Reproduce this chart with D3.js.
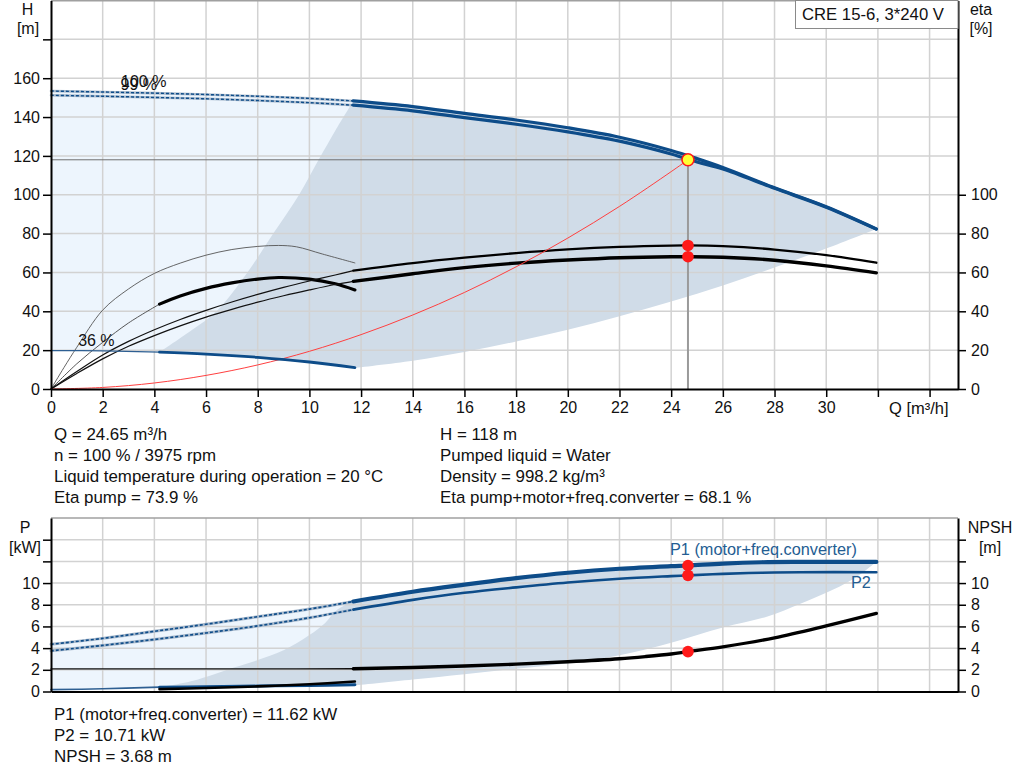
<!DOCTYPE html>
<html><head><meta charset="utf-8">
<script src="https://cdn.jsdelivr.net/npm/d3@7/dist/d3.min.js"></script>
<style>
body{margin:0;background:#fff;}
svg text{font-family:"Liberation Sans",Arial,sans-serif;fill:#111;}
</style></head>
<body><svg id="c" width="1024" height="781"></svg>
<script>
// ---------- DATA ----------
const xTicks = [0,2,4,6,8,10,12,14,16,18,20,22,24,26,28,30,32,34];
const hTicks = [0,20,40,60,80,100,120,140,160,180];
const etaTicks = [0,20,40,60,80,100];
const pTicks = [0,2,4,6,8,10,12,14];

// head curves (Q m3/h, H m)
const qHead = [0,2,4,6,8,10,11.7,14,16,18,20,22,24,25,26,28,30,31.94];
const h100  = [153.4,152.9,152.3,151.6,150.7,149.6,148.3,145.4,141.9,138.5,134.5,129.6,122.8,118.6,114.0,103.6,93.8,82.4];
const h99   = [151.2,150.7,150.1,149.4,148.5,147.4,146.1,143.2,139.7,136.3,132.4,127.6,121.0,116.9,113.3,103.3,93.6,82.3];
// min speed head curve (36 %)
const qMin = [0,2,4.2,6,8,10,11.76];
const hMin = [19.8,19.6,19.0,18.0,16.3,13.9,11.0];
// gray area edges
const qLeftEdge = [4.2,5.2,6.4,7.6,8.6,9.6,10.4,11.0,11.7];
const hLeftEdge = [19.0,28,40,60,80,100,119,133,148.3];
const qLowEdge = [11.76,14,16,18,20,22,24,26,28,30,31.94];
const hLowEdge = [10.8,14.5,19,24.5,30.5,37.5,45,53.3,62.5,72.3,82.4];
// efficiency at 100 %
const qEta = [0,1,2,3,4,5,6,7,8,9,10,11,11.7,14,16,18,20,22,24,24.65,26,28,30,31.94];
const etaPump = [0,9,17.5,24.5,30.5,35.8,40.5,44.8,48.7,52.3,55.6,58.7,60.9,64.8,67.6,70.0,71.9,73.2,73.85,73.9,73.5,71.8,68.9,65.0];
const etaTot  = [0,8,15.5,22,27.5,32.5,37,41,44.7,48,51,53.8,55.4,59.3,62.5,64.8,66.4,67.6,68.1,68.1,67.8,66.3,63.4,59.8];
// efficiency at 36 %
const qEta36P = [0,0.5,1,2,3,4,5,6,7,8,8.8,9.5,10.5,11.76];
const eta36P  = [0,11,21.5,40.6,51.5,59.5,64.8,68.9,71.8,73.4,73.9,73.2,69.5,64.9];
const qEta36T = [0,1,2,3,4.2,5,6,7,8,8.8,10,11,11.76];
const eta36T  = [0,13,24,34,43.7,47.9,51.8,54.6,56.6,57.4,56.6,54.2,51.0];
// system curve
const qSys = [0,2,4,6,8,10,12,14,16,18,20,22,24,24.65];
const hSys = [0,0.8,3.1,7.0,12.4,19.4,28.0,38.1,49.7,62.9,77.7,94.0,111.9,118];
// duty point
const dutyQ = 24.65, dutyH = 118, dutyEtaP = 73.9, dutyEtaT = 68.1;
const dutyP1 = 11.62, dutyP2 = 10.71, dutyNPSH = 3.68;

// power curves
const qP = [0,2,4,6,8,10,11.7,14,16,18,20,22,24,24.65,26,27.5,29,31.94];
const p1 = [4.35,4.9,5.55,6.2,6.9,7.6,8.3,9.2,9.85,10.45,10.95,11.32,11.56,11.62,11.8,11.92,11.95,11.95];
const p2 = [3.75,4.25,4.8,5.4,6.05,6.8,7.55,8.45,9.1,9.6,10.05,10.4,10.64,10.71,10.85,10.95,11.0,11.0];
const qNpsh = [0,4,8,11.7,14,16,18,20,22,23,24,24.65,26,28,30,31.94];
const npsh = [2.08,2.08,2.08,2.1,2.22,2.35,2.52,2.74,3.02,3.22,3.46,3.68,4.12,4.95,6.05,7.2];
const qPmin = [0,2,4.2,6,8,10,11.76];
const pMinBlue = [0.17,0.25,0.4,0.44,0.5,0.56,0.62];
const qPminK = [4.2,6,8,10,11.76];
const pMinBlack = [0.22,0.32,0.47,0.67,0.92];
const qPLeft = [4.2,5.5,7.05,8,9,10,10.6,11.05,11.7];
const pLeft = [0.4,1.0,2.2,2.9,3.8,5.2,6.3,7.5,8.3];
const qPLow = [11.76,14,16,18,20,22,24,26,27.7,29,30,31,31.94];
const pLow = [0.55,1.1,1.6,2.1,2.6,3.35,4.5,5.9,6.9,8.1,9.1,10.3,11.95];

const infoLeft = ["Q = 24.65 m³/h","n = 100 % / 3975 rpm","Liquid temperature during operation = 20 °C","Eta pump = 73.9 %"];
const infoRight = ["H = 118 m","Pumped liquid = Water","Density = 998.2 kg/m³","Eta pump+motor+freq.converter = 68.1 %"];
const infoBottom = ["P1 (motor+freq.converter) = 11.62 kW","P2 = 10.71 kW","NPSH = 3.68 m"];

// ---------- SETUP ----------
const svg = d3.select("#c");
const BLUE = "#0d4c89", LIGHT = "#edf5fd", GRAYF = "#d0dce8", GRID = "#d2d2d2";
const x = d3.scaleLinear().domain([0,35.1]).range([51,958]);
const yT = d3.scaleLinear().domain([0,200]).range([389,0.5]);
const yB = d3.scaleLinear().domain([0,16]).range([691.5,518]);

const zip = (qs, vs) => qs.map((q,i)=>[q,vs[i]]);
const sub = (pts, a, b) => pts.filter(p=>p[0]>=a-1e-9 && p[0]<=b+1e-9);
function lineGen(y){ return d3.line().x(d=>x(d[0])).y(d=>y(d[1])).curve(d3.curveCatmullRom.alpha(0.5)); }
function polyPath(y, segs){
  const lg = lineGen(y);
  return segs.map((s,i)=>{ const p = lg(s); return i===0? p : p.replace(/^M/,"L"); }).join("") + "Z";
}
function drawLine(g, y, pts, stroke, w, extra){
  const p = g.append("path").attr("d", lineGen(y)(pts)).attr("fill","none")
    .attr("stroke",stroke).attr("stroke-width",w).attr("stroke-linejoin","round").attr("stroke-linecap","round");
  if(extra) extra(p);
  return p;
}
function hatched(g, y, pts, w){
  drawLine(g, y, pts, "#a9bacd", w);
  drawLine(g, y, pts, BLUE, w*0.55, p=>p.attr("stroke-dasharray","3,2").attr("stroke-linecap","butt"));
}

// ---------- TOP CHART ----------
const gTop = svg.append("g");
const H100 = zip(qHead,h100), H99 = zip(qHead,h99), HMIN = zip(qMin,hMin);
gTop.append("path").attr("fill",LIGHT)
  .attr("d", polyPath(yT,[sub(H100,0,11.7), sub(HMIN,0,11.76).slice().reverse()]));
gTop.append("path").attr("fill",GRAYF)
  .attr("d", polyPath(yT,[zip(qLeftEdge,hLeftEdge), sub(H100,11.7,40), zip(qLowEdge,hLowEdge).reverse(), sub(HMIN,4.2,11.76).reverse()]));
const gridT = gTop.append("g").attr("stroke",GRID).attr("stroke-width",1.5);
xTicks.filter(d=>d>0).forEach(d=>gridT.append("line").attr("x1",x(d)).attr("x2",x(d)).attr("y1",yT(200)).attr("y2",yT(0)));
hTicks.filter(d=>d>0).forEach(d=>gridT.append("line").attr("x1",x(0)).attr("x2",x(35.1)).attr("y1",yT(d)).attr("y2",yT(d)));
gTop.append("line").attr("x1",x(0)).attr("x2",x(35.1)).attr("y1",0.75).attr("y2",0.75).attr("stroke","#a0a0a0").attr("stroke-width",1.5);

gTop.append("line").attr("x1",x(0)).attr("x2",x(dutyQ)).attr("y1",yT(dutyH)).attr("y2",yT(dutyH)).attr("stroke","#707070").attr("stroke-width",1);
gTop.append("line").attr("x1",x(dutyQ)).attr("x2",x(dutyQ)).attr("y1",yT(dutyH)).attr("y2",yT(0)).attr("stroke","#9a9a9a").attr("stroke-width",2);

const EP = zip(qEta,etaPump), ET = zip(qEta,etaTot);
drawLine(gTop,yT,zip(qEta36P,eta36P),"#555",0.9);
drawLine(gTop,yT,sub(zip(qEta36T,eta36T),0,4.2),"#444",0.9);
drawLine(gTop,yT,sub(zip(qEta36T,eta36T),4.2,12),"#000",3.2);
drawLine(gTop,yT,sub(EP,0,11.7),"#111",1.2);
drawLine(gTop,yT,sub(ET,0,11.7),"#111",1.2);
drawLine(gTop,yT,sub(EP,11.7,40),"#000",2.3);
drawLine(gTop,yT,sub(ET,11.7,40),"#000",3.4);

drawLine(gTop,yT,zip(qSys,hSys),"#ff4040",1);

hatched(gTop,yT,sub(H100,0,11.7),2.6);
hatched(gTop,yT,sub(H99,0,11.7),2.6);
drawLine(gTop,yT,sub(H100,11.7,40),BLUE,3.2);
drawLine(gTop,yT,sub(H99,11.7,40),BLUE,3.2);
drawLine(gTop,yT,sub(HMIN,0,4.2),"#2e5f92",1.3);
drawLine(gTop,yT,sub(HMIN,4.2,12),BLUE,2.8);

gTop.append("text").attr("x",x(2.71)).attr("y",yT(155.5)).attr("font-size",16).text("100 %");
gTop.append("text").attr("x",x(2.69)).attr("y",yT(153.7)).attr("font-size",16).text("99 %");
gTop.append("text").attr("x",x(1.05)).attr("y",yT(22)).attr("font-size",16).text("36 %");

gTop.append("circle").attr("cx",x(dutyQ)).attr("cy",yT(dutyEtaP)).attr("r",5.8).attr("fill","#ff1a1a");
gTop.append("circle").attr("cx",x(dutyQ)).attr("cy",yT(dutyEtaT)).attr("r",5.8).attr("fill","#ff1a1a");
gTop.append("circle").attr("cx",x(dutyQ)).attr("cy",yT(dutyH)).attr("r",6).attr("fill","#ffff33").attr("stroke","#ff1a1a").attr("stroke-width",1.6);

function styleAxis(g, w){
  g.selectAll(".domain").attr("stroke","#000").attr("stroke-width",w);
  g.selectAll(".tick line").attr("stroke","#000").attr("stroke-width",1.5);
  g.selectAll("text").attr("font-size",16).attr("fill","#111").style("font-family",'"Liberation Sans",Arial,sans-serif');
}
const axL = gTop.append("g").attr("transform",`translate(${x(0)},0)`)
  .call(d3.axisLeft(yT).tickValues(hTicks).tickFormat(d=>d<=160?d:"").tickSize(8).tickPadding(3).tickSizeOuter(0));
styleAxis(axL,2);
const axR = gTop.append("g").attr("transform",`translate(${x(35.1)},0)`)
  .call(d3.axisRight(yT).tickValues(etaTicks).tickSize(8).tickPadding(5).tickSizeOuter(0));
styleAxis(axR,2);
const axB = gTop.append("g").attr("transform",`translate(0,${yT(0)})`)
  .call(d3.axisBottom(x).tickValues(xTicks).tickFormat(d=>d<=30?d:"").tickSize(8).tickPadding(5).tickSizeOuter(0));
styleAxis(axB,2);

gTop.append("text").attr("x",27.5).attr("y",15).attr("text-anchor","middle").attr("font-size",16).text("H");
gTop.append("text").attr("x",28).attr("y",34).attr("text-anchor","middle").attr("font-size",16).text("[m]");
gTop.append("text").attr("x",981).attr("y",15).attr("text-anchor","middle").attr("font-size",16).text("eta");
gTop.append("text").attr("x",981).attr("y",34).attr("text-anchor","middle").attr("font-size",16).text("[%]");
gTop.append("text").attr("x",889).attr("y",414).attr("font-size",16.5).text("Q [m³/h]");

gTop.append("rect").attr("x",795.5).attr("y",0.5).attr("width",162.5).attr("height",28).attr("fill","#fff").attr("stroke","#8a8a8a").attr("stroke-width",1);
gTop.append("text").attr("x",802).attr("y",19.5).attr("font-size",16.7).text("CRE 15-6, 3*240 V");

infoLeft.forEach((t,i)=>svg.append("text").attr("x",54).attr("y",440+i*21).attr("font-size",16.9).text(t));
infoRight.forEach((t,i)=>svg.append("text").attr("x",440).attr("y",440+i*21).attr("font-size",16.9).text(t));
infoBottom.forEach((t,i)=>svg.append("text").attr("x",54).attr("y",720+i*21).attr("font-size",16.9).text(t));

// ---------- BOTTOM CHART ----------
const gBot = svg.append("g");
const P1 = zip(qP,p1), P2 = zip(qP,p2), PMB = zip(qPmin,pMinBlue);
gBot.append("path").attr("fill",LIGHT)
  .attr("d", polyPath(yB,[sub(P1,0,11.7), sub(PMB,0,11.76).slice().reverse()]));
gBot.append("path").attr("fill",GRAYF)
  .attr("d", polyPath(yB,[zip(qPLeft,pLeft), sub(P1,11.7,40), zip(qPLow,pLow).reverse(), sub(PMB,4.2,11.76).reverse()]));
const gridB = gBot.append("g").attr("stroke",GRID).attr("stroke-width",1.5);
xTicks.filter(d=>d>0).forEach(d=>gridB.append("line").attr("x1",x(d)).attr("x2",x(d)).attr("y1",yB(16)).attr("y2",yB(0)));
pTicks.filter(d=>d>0).forEach(d=>gridB.append("line").attr("x1",x(0)).attr("x2",x(35.1)).attr("y1",yB(d)).attr("y2",yB(d)));
gBot.append("line").attr("x1",x(0)).attr("x2",x(35.1)).attr("y1",yB(16)).attr("y2",yB(16)).attr("stroke","#a0a0a0").attr("stroke-width",1.5);

const NP = zip(qNpsh,npsh);
drawLine(gBot,yB,sub(NP,0,11.7),"#111",1.3);
drawLine(gBot,yB,sub(NP,11.7,40),"#000",3.4);
drawLine(gBot,yB,sub(PMB,0,4.2),"#2e5f92",1.6);
drawLine(gBot,yB,sub(PMB,4.2,12),BLUE,3);
drawLine(gBot,yB,zip(qPminK,pMinBlack),"#000",2.6);
hatched(gBot,yB,sub(P1,0,11.7),3);
hatched(gBot,yB,sub(P2,0,11.7),3);
drawLine(gBot,yB,sub(P1,11.7,40),BLUE,4.2);
drawLine(gBot,yB,sub(P2,11.7,40),BLUE,2.6);

[dutyP1,dutyP2,dutyNPSH].forEach(v=>gBot.append("circle").attr("cx",x(dutyQ)).attr("cy",yB(v)).attr("r",5.8).attr("fill","#ff1a1a"));

gBot.append("text").attr("x",670).attr("y",555).attr("font-size",16.3).style("fill","#245d92").text("P1 (motor+freq.converter)");
gBot.append("text").attr("x",851).attr("y",588).attr("font-size",16.3).style("fill","#245d92").text("P2");

const bL = gBot.append("g").attr("transform",`translate(${x(0)},0)`)
  .call(d3.axisLeft(yB).tickValues(pTicks).tickFormat(d=>d<=10?d:"").tickSize(8).tickPadding(3).tickSizeOuter(0));
styleAxis(bL,2);
const bR = gBot.append("g").attr("transform",`translate(${x(35.1)},0)`)
  .call(d3.axisRight(yB).tickValues(pTicks).tickFormat(d=>d<=10?d:"").tickSize(8).tickPadding(5).tickSizeOuter(0));
styleAxis(bR,2);
const bB = gBot.append("g").attr("transform",`translate(0,${yB(0)})`)
  .call(d3.axisBottom(x).tickValues([]).tickSize(0).tickSizeOuter(0));
styleAxis(bB,2);

gBot.append("text").attr("x",25).attr("y",533).attr("text-anchor","middle").attr("font-size",16).text("P");
gBot.append("text").attr("x",25).attr("y",553).attr("text-anchor","middle").attr("font-size",16).text("[kW]");
gBot.append("text").attr("x",990).attr("y",533).attr("text-anchor","middle").attr("font-size",16).text("NPSH");
gBot.append("text").attr("x",990).attr("y",553).attr("text-anchor","middle").attr("font-size",16).text("[m]");
</script></body></html>
